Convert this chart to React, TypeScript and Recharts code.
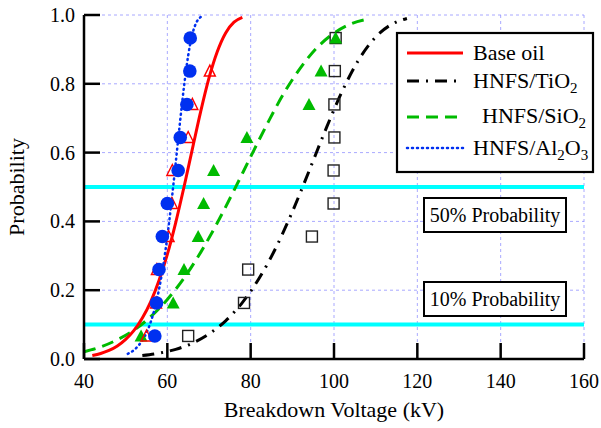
import React from 'react';
import { ComposedChart, Line, Scatter, XAxis, YAxis, CartesianGrid, ReferenceLine } from 'recharts';

const FONT = "'Liberation Serif', 'DejaVu Serif', 'Noto Serif', 'Times New Roman', Times, serif";

const xTicks = [40, 60, 80, 100, 120, 140, 160];
const yTicks = [0, 0.2, 0.4, 0.6, 0.8, 1.0];
const refLevels = [0.5, 0.1];

// median-rank probabilities
const ranks = [0.067, 0.163, 0.26, 0.356, 0.452, 0.548, 0.644, 0.74, 0.837, 0.933];

// measured breakdown voltages (kV)
const baseOilV = [55.0, 57.3, 57.5, 60.3, 61.1, 61.2, 65.0, 66.0, 70.2];
const tio2V = [65.0, 78.4, 79.4, 94.7, 99.9, 99.9, 100.1, 100.1, 100.2, 100.4];
const sio2V = [53.7, 61.4, 64.0, 67.4, 68.7, 71.1, 79.1, 94.0, 96.9, 100.4];
const al2o3V = [57.0, 57.4, 58.0, 58.8, 60.0, 62.6, 63.1, 64.7, 65.4, 65.5];

// fitted curves
const baseFitX = [42, 44, 46, 48, 50, 52, 54, 56, 58, 60, 62, 64, 66, 68, 70, 72, 74, 76, 78];
const baseFitP = [0.010, 0.016, 0.025, 0.038, 0.057, 0.083, 0.119, 0.166, 0.228, 0.304, 0.396, 0.5, 0.61, 0.719, 0.817, 0.894, 0.948, 0.979, 0.993];

const tio2FitX = [54, 58, 62, 66, 70, 74, 78, 82, 86, 90, 94, 98, 102, 106, 110, 114, 117.5];
const tio2FitP = [0.010, 0.017, 0.028, 0.046, 0.073, 0.111, 0.164, 0.234, 0.322, 0.428, 0.546, 0.667, 0.779, 0.871, 0.936, 0.974, 0.99];

const sio2FitX = [40, 44, 48, 52, 56, 60, 64, 68, 72, 76, 80, 84, 88, 92, 96, 100, 104, 108];
const sio2FitP = [0.021, 0.035, 0.056, 0.084, 0.123, 0.173, 0.235, 0.31, 0.396, 0.49, 0.588, 0.684, 0.773, 0.847, 0.906, 0.947, 0.974, 0.988];

const al2o3FitX = [50.5, 51, 52, 53, 54, 55, 56, 57, 58, 59, 60, 61, 62, 63, 64, 65, 66, 67, 68];
const al2o3FitP = [0.015, 0.018, 0.026, 0.038, 0.054, 0.076, 0.107, 0.148, 0.202, 0.271, 0.356, 0.457, 0.569, 0.684, 0.792, 0.882, 0.944, 0.979, 0.994];

const zip = (xs: number[], ys: number[]) => xs.map((x, i) => ({ x, y: ys[i] }));

const basePts = zip(baseOilV, ranks);
const tio2Pts = zip(tio2V, ranks);
const sio2Pts = zip(sio2V, ranks);
const al2o3Pts = zip(al2o3V, ranks);

const baseFit = zip(baseFitX, baseFitP);
const tio2Fit = zip(tio2FitX, tio2FitP);
const sio2Fit = zip(sio2FitX, sio2FitP);
const al2o3Fit = zip(al2o3FitX, al2o3FitP);

const RED = '#ff0000';
const BLACK = '#000000';
const GREEN = '#00bb00';
const BLUE = '#0030f0';
const CYAN = '#00ffff';

const TICK_LEN = 16;

const BottomTick = (p: any) => (
  <g>
    <line x1={p.x} y1={p.y} x2={p.x} y2={p.y - TICK_LEN} stroke="#000" strokeWidth={2.5} />
    <text x={p.x} y={p.y + 29} textAnchor="middle" fontSize={20} fontFamily={FONT} fill="#000">
      {p.payload.value}
    </text>
  </g>
);
const TopTick = (p: any) => (
  <line x1={p.x} y1={p.y} x2={p.x} y2={p.y + TICK_LEN} stroke="#000" strokeWidth={2.5} />
);
const LeftTick = (p: any) => (
  <g>
    <line x1={p.x} y1={p.y} x2={p.x + TICK_LEN} y2={p.y} stroke="#000" strokeWidth={2.5} />
    <text x={p.x - 9} y={p.y + 7} textAnchor="end" fontSize={20} fontFamily={FONT} fill="#000">
      {Number(p.payload.value).toFixed(1)}
    </text>
  </g>
);
const RightTick = (p: any) => (
  <line x1={p.x} y1={p.y} x2={p.x - TICK_LEN} y2={p.y} stroke="#000" strokeWidth={2.5} />
);

const OpenTriangle = (p: any) => {
  const { cx, cy } = p;
  if (cx == null || cy == null) return <g />;
  return (
    <polygon
      points={`${cx},${cy - 6} ${cx - 5.5},${cy + 5} ${cx + 5.5},${cy + 5}`}
      fill="none"
      stroke={RED}
      strokeWidth={1.4}
    />
  );
};
const FilledTriangle = (p: any) => {
  const { cx, cy } = p;
  if (cx == null || cy == null) return <g />;
  return <polygon points={`${cx},${cy - 6.5} ${cx - 6.5},${cy + 5.5} ${cx + 6.5},${cy + 5.5}`} fill={GREEN} />;
};
const Dot = (p: any) => {
  const { cx, cy } = p;
  if (cx == null || cy == null) return <g />;
  return <circle cx={cx} cy={cy} r={6.8} fill={BLUE} />;
};
const OpenSquare = (p: any) => {
  const { cx, cy } = p;
  if (cx == null || cy == null) return <g />;
  return <rect x={cx - 5.5} y={cy - 5.5} width={11} height={11} fill="none" stroke="#222" strokeWidth={1.4} />;
};

const YLabel = (p: any) => {
  const vb = p.viewBox || { x: 0, y: 15, width: 84, height: 344 };
  const cx = vb.x + 17;
  const cy = vb.y + vb.height / 2;
  return (
    <text x={cx} y={cy} transform={`rotate(-90, ${cx}, ${cy})`} textAnchor="middle" dy={7} fontSize={22} fontFamily={FONT} fill="#000">
      Probability
    </text>
  );
};
const XLabel = (p: any) => {
  const vb = p.viewBox || { x: 84, y: 359, width: 500, height: 69 };
  return (
    <text x={vb.x + vb.width / 2} y={vb.y + 58} textAnchor="middle" fontSize={22} fontFamily={FONT} fill="#000">
      Breakdown Voltage (kV)
    </text>
  );
};

type LegendItem = { name: string; color: string; dash?: string; width: number; cap?: string; indent?: number; y: number };

const legendItems: LegendItem[] = [
  { name: 'Base oil', color: RED, width: 3, y: 53 },
  { name: 'TiO2', color: BLACK, dash: '12 7 2 7', width: 3, y: 81 },
  { name: 'SiO2', color: GREEN, dash: '12 7', width: 3, y: 117, indent: 9 },
  { name: 'Al2O3', color: BLUE, dash: '1 4', width: 2.5, cap: 'round', y: 148 },
];

const LegendText = ({ name, x, y }: { name: string; x: number; y: number }) => {
  const base = { fontSize: 22, fontFamily: FONT, fill: '#000' } as any;
  const sub = 15;
  if (name === 'Base oil')
    return (
      <text x={x} y={y + 7} {...base}>
        Base oil
      </text>
    );
  if (name === 'TiO2')
    return (
      <text x={x} y={y + 7} {...base}>
        HNFS/TiO<tspan fontSize={sub} dy={5}>2</tspan>
      </text>
    );
  if (name === 'SiO2')
    return (
      <text x={x} y={y + 6} {...base}>
        HNFS/SiO<tspan fontSize={sub} dy={5}>2</tspan>
      </text>
    );
  return (
    <text x={x} y={y + 7} {...base}>
      HNFS/Al<tspan fontSize={sub} dy={5}>2</tspan>
      <tspan dy={-5}>O</tspan>
      <tspan fontSize={sub} dy={5}>3</tspan>
    </text>
  );
};

const LegendBox = () => (
  <svg width={601} height={428} style={{ position: 'absolute', left: 0, top: 0, pointerEvents: 'none' }}>
    <rect x={397} y={33} width={196} height={139} fill="#fff" stroke="#000" strokeWidth={2.2} />
    {legendItems.map((it) => (
      <g key={it.name}>
        <line
          x1={407}
          x2={463}
          y1={it.y}
          y2={it.y}
          stroke={it.color}
          strokeWidth={it.width}
          strokeDasharray={it.dash}
          strokeLinecap={(it.cap as any) || 'butt'}
        />
        <LegendText name={it.name} x={473 + (it.indent || 0)} y={it.y} />
      </g>
    ))}
  </svg>
);

const noteBoxes = [
  { text: '50% Probability', top: 197 },
  { text: '10% Probability', top: 281 },
];

export default function App() {
  return (
    <div style={{ position: 'absolute', left: 0, top: 0, width: 601, height: 428, background: '#fff', fontFamily: FONT }}>
      <ComposedChart width={601} height={428} margin={{ top: 15, right: 17, bottom: 0, left: 0 }}>
        <CartesianGrid stroke="#8c8cff" strokeOpacity={0.75} strokeDasharray="3 3" strokeWidth={1} />
        <XAxis
          dataKey="x"
          type="number"
          domain={[40, 160]}
          ticks={xTicks}
          interval={0}
          allowDataOverflow
          height={69}
          tickSize={0}
          tickMargin={0}
          tick={<BottomTick />}
          tickLine={false}
          axisLine={{ stroke: '#000', strokeWidth: 2.5 }}
          label={<XLabel />}
        />
        <XAxis
          xAxisId="top"
          orientation="top"
          type="number"
          domain={[40, 160]}
          ticks={xTicks}
          interval={0}
          height={0}
          tickSize={0}
          tickMargin={0}
          tick={<TopTick />}
          tickLine={false}
          axisLine={{ stroke: '#000', strokeWidth: 2.5 }}
        />
        <YAxis
          type="number"
          domain={[0, 1]}
          ticks={yTicks}
          interval={0}
          allowDataOverflow
          width={84}
          tickSize={0}
          tickMargin={0}
          tick={<LeftTick />}
          tickLine={false}
          axisLine={{ stroke: '#000', strokeWidth: 2.5 }}
          label={<YLabel />}
        />
        <YAxis
          yAxisId="right"
          orientation="right"
          type="number"
          domain={[0, 1]}
          ticks={yTicks}
          interval={0}
          width={0}
          tickSize={0}
          tickMargin={0}
          tick={<RightTick />}
          tickLine={false}
          axisLine={{ stroke: '#000', strokeWidth: 2.5 }}
        />
        {refLevels.map((v) => (
          <ReferenceLine key={v} y={v} stroke={CYAN} strokeWidth={4} />
        ))}
        <Line data={sio2Fit} dataKey="y" type="monotone" stroke={GREEN} strokeWidth={3} strokeDasharray="12 7" dot={false} isAnimationActive={false} />
        <Line data={tio2Fit} dataKey="y" type="monotone" stroke={BLACK} strokeWidth={3} strokeDasharray="12 7 2 7" dot={false} isAnimationActive={false} />
        <Line data={baseFit} dataKey="y" type="monotone" stroke={RED} strokeWidth={3} dot={false} isAnimationActive={false} />
        <Line data={al2o3Fit} dataKey="y" type="monotone" stroke={BLUE} strokeWidth={2.5} strokeDasharray="1 4" strokeLinecap="round" dot={false} isAnimationActive={false} />
        <Scatter data={tio2Pts} dataKey="y" shape={<OpenSquare />} isAnimationActive={false} />
        <Scatter data={sio2Pts} dataKey="y" shape={<FilledTriangle />} isAnimationActive={false} />
        <Scatter data={basePts} dataKey="y" shape={<OpenTriangle />} isAnimationActive={false} />
        <Scatter data={al2o3Pts} dataKey="y" shape={<Dot />} isAnimationActive={false} />
      </ComposedChart>
      <LegendBox />
      {noteBoxes.map((b) => (
        <div
          key={b.text}
          style={{
            position: 'absolute',
            left: 423,
            top: b.top,
            width: 144,
            height: 36,
            boxSizing: 'border-box',
            border: '2px solid #000',
            background: '#fff',
            display: 'flex',
            alignItems: 'center',
            justifyContent: 'center',
            fontFamily: FONT,
            fontSize: 20,
            lineHeight: '20px',
            color: '#000',
          }}
        >
          {b.text}
        </div>
      ))}
    </div>
  );
}
